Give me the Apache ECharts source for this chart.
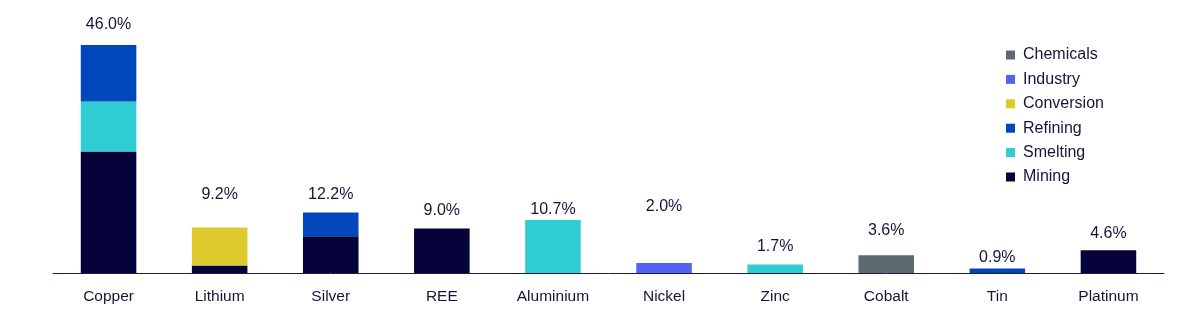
<!DOCTYPE html>
<html>
<head>
<meta charset="utf-8">
<script src="https://cdn.jsdelivr.net/npm/echarts@6/dist/echarts.min.js"></script>
<style>
  html, body { margin: 0; padding: 0; background: #fff; }
  #myChart { width: 1200px; height: 313px; }
</style>
</head>
<body>
<div id="myChart"></div>
<script>
// data (% share)
const categories = ['Copper', 'Lithium', 'Silver', 'REE', 'Aluminium', 'Nickel', 'Zinc', 'Cobalt', 'Tin', 'Platinum'];
const mining     = [24.5, 1.5, 7.4, 9.0, null, null, null, null, null, 4.6];
const smelting   = [10.1, null, null, null, 10.7, null, 1.7, null, null, null];
const refining   = [11.4, null, 4.8, null, null, null, null, null, 0.9, null];
const conversion = [null, 7.7, null, null, null, null, null, null, null, null];
const industry   = [null, null, null, null, null, 2.0, null, null, null, null];
const chemicals  = [null, null, null, null, null, null, null, 3.6, null, null];

// space (px) between top of bar and the total label, as drawn in the original
const labelGap = [12, 25, 10, 10, 2, 48, 10, 17, 3, 9];

const textColor = '#15153a';

const totals = categories.map((c, i) => {
  let s = 0;
  [mining, smelting, refining, conversion, industry, chemicals].forEach(arr => {
    if (arr[i] != null) s += arr[i];
  });
  return Math.round(s * 10) / 10;
});

function barSeries(name, data, color) {
  return {
    name: name,
    type: 'bar',
    stack: 'total',
    barWidth: '50%',
    data: data,
    itemStyle: { color: color },
    emphasis: { disabled: true }
  };
}

let myChart = echarts.init(document.getElementById('myChart'));
myChart.setOption({
  animation: false,
  backgroundColor: '#fff',
  textStyle: { fontFamily: '"Liberation Sans", Arial, sans-serif' },
  legend: {
    orient: 'vertical',
    left: 1006,
    top: 47,
    padding: 0,
    itemWidth: 9,
    itemHeight: 9,
    itemGap: 8.4,
    icon: 'rect',
    data: ['Chemicals', 'Industry', 'Conversion', 'Refining', 'Smelting', 'Mining'],
    textStyle: { color: textColor, fontSize: 16, lineHeight: 16, padding: [0, 0, 0, 3] }
  },
  grid: { left: 53, right: 36, top: 45, bottom: 40 },
  xAxis: {
    type: 'category',
    data: categories,
    axisTick: { show: false },
    axisLine: { lineStyle: { color: '#1c1c48', width: 1 } },
    axisLabel: { color: textColor, fontSize: 15.5, margin: 16 }
  },
  yAxis: {
    type: 'value',
    min: 0,
    max: 46,
    show: false,
    splitLine: { show: false }
  },
  series: [
    barSeries('Mining', mining, '#06033a'),
    barSeries('Smelting', smelting, '#2ecdd4'),
    barSeries('Refining', refining, '#0047bb'),
    barSeries('Conversion', conversion, '#dfca2d'),
    barSeries('Industry', industry, '#5462f2'),
    barSeries('Chemicals', chemicals, '#5e6a71'),
    {
      name: 'Total',
      type: 'scatter',
      symbolSize: 0,
      silent: true,
      itemStyle: { opacity: 1 },
      data: totals.map((v, i) => ({
        value: v,
        label: { distance: labelGap[i] }
      })),
      label: {
        show: true,
        position: 'top',
        color: textColor,
        fontSize: 16,
        lineHeight: 16,
        formatter: p => p.value.toFixed(1) + '%'
      }
    }
  ]
});
</script>
</body>
</html>
